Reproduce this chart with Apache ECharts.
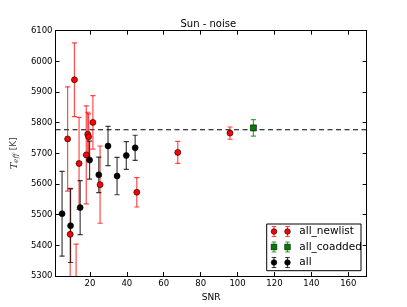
<!DOCTYPE html>
<html>
<head>
<meta charset="utf-8">
<script src="https://cdn.jsdelivr.net/npm/echarts@6/dist/echarts.min.js"></script>
<style>html,body{margin:0;padding:0;background:#fff;}#c{width:407px;height:307px;}</style>
</head>
<body>
<div id="c"></div>
<script>
// ---- data ----
const newlistSnr  = [7.9, 9.3, 11.6, 12.5, 14.1, 18.0, 18.8, 19.3, 21.6, 25.5, 45.4, 67.6, 95.9];
const newlistTeff = [5747, 5436, 5940, 5254, 5667, 5695, 5762, 5754, 5801, 5598, 5573, 5703, 5766];
const newlistErr  = [170, 150, 120, 150, 150, 160, 72, 75, 87, 126, 48, 36, 20];

const coaddedSnr  = [108.6];
const coaddedTeff = [5783];
const coaddedErr  = [27];

const allSnr  = [4.9, 9.5, 14.7, 19.8, 24.8, 29.8, 34.7, 39.7, 44.5];
const allTeff = [5503, 5464, 5523, 5678, 5630, 5724, 5626, 5693, 5718];
const allErr  = [138, 120, 88, 62, 58, 64, 61, 45, 41];

const sunTeff = 5777;
const xTicks = [20, 40, 60, 80, 100, 120, 140, 160];
const yMin = 5300, yMax = 6100, yStep = 100;
const xMin = 1.35, xMax = 170;
const seriesNames = ['all_newlist', 'all_coadded', 'all'];

function rows(xs, ys, es) { return xs.map((x, i) => [x, ys[i], es[i]]); }
const FONT = 'DejaVu Sans';

function errRender(color) {
  return function (params, api) {
    const x = api.value(0), y = api.value(1), e = api.value(2);
    const top = api.coord([x, y + e]);
    const bot = api.coord([x, y - e]);
    const cw = 2.6;
    const style = { stroke: color, lineWidth: 1.2 };
    return {
      type: 'group',
      children: [
        { type: 'line', shape: { x1: top[0], y1: top[1], x2: bot[0], y2: bot[1] }, style },
        { type: 'line', shape: { x1: top[0] - cw, y1: top[1], x2: top[0] + cw, y2: top[1] }, style },
        { type: 'line', shape: { x1: bot[0] - cw, y1: bot[1], x2: bot[0] + cw, y2: bot[1] }, style }
      ]
    };
  };
}

const redBar = 'rgba(255,0,0,0.7)';
const greenBar = 'rgba(0,128,0,0.7)';
const blackBar = 'rgba(0,0,0,0.75)';

const chart = echarts.init(document.getElementById('c'), null, { renderer: 'canvas' });

const grid = { left: 50, right: 40.3, top: 30.7, bottom: 31 };

// legend (drawn as graphics)
const lgX = 266.7, lgY = 224, lgW = 94.3, lgH = 46.7;
const rowsY = [231.5, 247, 262.5];
const iconX = [274, 287.5];
const lgStyles = [
  { bar: redBar, fill: '#ff0000', sym: 'circle' },
  { bar: greenBar, fill: '#008000', sym: 'rect' },
  { bar: blackBar, fill: '#000000', sym: 'circle' }
];
const legendEls = [{
  type: 'rect', shape: { x: lgX, y: lgY, width: lgW, height: lgH },
  style: { fill: '#fff', stroke: '#000', lineWidth: 1 }, z: 100
}];
seriesNames.forEach((nm, i) => {
  const cy = rowsY[i], st = lgStyles[i];
  iconX.forEach(cx => {
    const ls = { stroke: st.bar, lineWidth: 1.1 };
    legendEls.push({ type: 'line', shape: { x1: cx, y1: cy - 5, x2: cx, y2: cy + 5 }, style: ls, z: 101 });
    legendEls.push({ type: 'line', shape: { x1: cx - 2.3, y1: cy - 5, x2: cx + 2.3, y2: cy - 5 }, style: ls, z: 101 });
    legendEls.push({ type: 'line', shape: { x1: cx - 2.3, y1: cy + 5, x2: cx + 2.3, y2: cy + 5 }, style: ls, z: 101 });
    if (st.sym === 'circle') {
      legendEls.push({ type: 'circle', shape: { cx, cy, r: 2.8 }, style: { fill: st.fill, stroke: '#000', lineWidth: 0.6 }, z: 102 });
    } else {
      legendEls.push({ type: 'rect', shape: { x: cx - 2.8, y: cy - 2.8, width: 5.6, height: 5.6 }, style: { fill: st.fill, stroke: '#000', lineWidth: 0.6 }, z: 102 });
    }
  });
  legendEls.push({
    type: 'text', x: 299.3, y: cy,
    style: { text: nm, font: '10.5px "DejaVu Sans"', fill: '#000', textVerticalAlign: 'middle', textAlign: 'left' }, z: 102
  });
});

const axisCommon = {
  axisLine: { show: true, lineStyle: { color: '#000', width: 1 } },
  splitLine: { show: false }
};

const option = {
  backgroundColor: '#fff',
  animation: false,
  title: {
    text: 'Sun - noise', left: 208.3, top: 19, padding: 0, textAlign: 'center',
    textStyle: { fontFamily: FONT, fontSize: 10, fontWeight: 'normal', color: '#000' }
  },
  grid,
  xAxis: [{
    type: 'value', min: xMin, max: xMax, position: 'bottom',
    name: 'SNR', nameLocation: 'middle', nameGap: 14,
    nameTextStyle: { fontFamily: FONT, fontSize: 9, color: '#000' },
    ...axisCommon,
    axisTick: { show: true, inside: true, length: 4, customValues: xTicks, lineStyle: { color: '#000' } },
    axisLabel: { customValues: xTicks, fontFamily: FONT, fontSize: 8.5, color: '#000', margin: 3, formatter: v => String(v) }
  }, {
    type: 'value', min: xMin, max: xMax, position: 'top',
    ...axisCommon,
    axisTick: { show: true, inside: true, length: 4, customValues: xTicks, lineStyle: { color: '#000' } },
    axisLabel: { show: false }
  }],
  yAxis: [{
    type: 'value', min: yMin, max: yMax, interval: yStep, position: 'left',
    name: '{it|T}{sub|eff} {rm|[K]}', nameLocation: 'middle', nameGap: 27, nameRotate: 90,
    nameTextStyle: {
      color: '#333',
      rich: {
        it: { fontFamily: 'DejaVu Serif', fontStyle: 'italic', fontSize: 10, color: '#333' },
        sub: { fontFamily: 'DejaVu Serif', fontStyle: 'italic', fontSize: 7, color: '#333', verticalAlign: 'bottom', padding: [4, 0, 0, 0] },
        rm: { fontFamily: FONT, fontSize: 9, color: '#333' }
      }
    },
    ...axisCommon,
    axisTick: { show: true, inside: true, length: 4, lineStyle: { color: '#000' } },
    axisLabel: { fontFamily: FONT, fontSize: 8.5, color: '#000', margin: 3, formatter: v => String(v) }
  }, {
    type: 'value', min: yMin, max: yMax, interval: yStep, position: 'right',
    ...axisCommon,
    axisTick: { show: true, inside: true, length: 4, lineStyle: { color: '#000' } },
    axisLabel: { show: false }
  }],
  graphic: legendEls,
  series: [
    {
      type: 'line', name: 'sun', data: [[xMin, sunTeff], [xMax, sunTeff]],
      symbol: 'none', lineStyle: { color: '#000', width: 1.1, type: [5, 3.5] }, z: 1, silent: true
    },
    { type: 'custom', name: 'all_newlist_err', data: rows(newlistSnr, newlistTeff, newlistErr), renderItem: errRender(redBar), clip: true, z: 2 },
    { type: 'custom', name: 'all_coadded_err', data: rows(coaddedSnr, coaddedTeff, coaddedErr), renderItem: errRender(greenBar), clip: true, z: 2 },
    { type: 'custom', name: 'all_err', data: rows(allSnr, allTeff, allErr), renderItem: errRender(blackBar), clip: true, z: 2 },
    {
      type: 'scatter', name: 'all_newlist', data: rows(newlistSnr, newlistTeff, newlistErr),
      symbol: 'circle', symbolSize: 6, clip: true,
      itemStyle: { color: '#ff0000', borderColor: '#000', borderWidth: 0.6, opacity: 1 }, z: 3
    },
    {
      type: 'scatter', name: 'all_coadded', data: rows(coaddedSnr, coaddedTeff, coaddedErr),
      symbol: 'rect', symbolSize: 6, clip: true,
      itemStyle: { color: '#008000', borderColor: '#000', borderWidth: 0.6, opacity: 1 }, z: 3
    },
    {
      type: 'scatter', name: 'all', data: rows(allSnr, allTeff, allErr),
      symbol: 'circle', symbolSize: 6, clip: true,
      itemStyle: { color: '#000', borderColor: '#000', borderWidth: 0.6, opacity: 1 }, z: 3
    }
  ]
};
chart.setOption(option);
</script>
</body>
</html>
